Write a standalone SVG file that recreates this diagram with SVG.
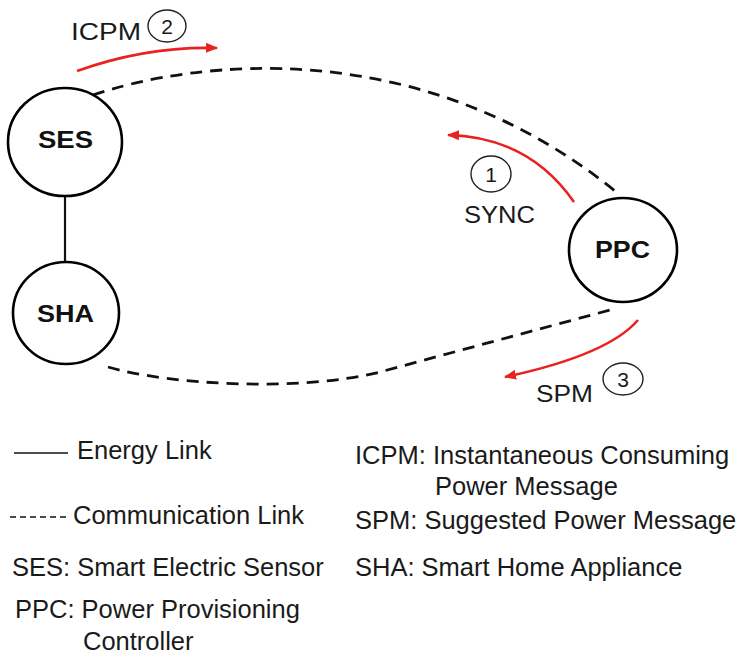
<svg xmlns="http://www.w3.org/2000/svg" width="743" height="660" viewBox="0 0 743 660">
  <style>
    .node { fill: #ffffff; stroke: #000000; stroke-width: 2.6; }
    .nlabel { font-family: "Liberation Sans", Arial, sans-serif; font-weight: bold; font-size: 23px; fill: #111111; }
    .msg { font-family: "Liberation Sans", Arial, sans-serif; font-size: 24px; fill: #1a1a1a; }
    .step { fill: #ffffff; stroke: #222222; stroke-width: 1.4; }
    .stepnum { font-family: "Liberation Sans", Arial, sans-serif; font-size: 21px; fill: #1a1a1a; text-anchor: middle; }
    .comm { fill: none; stroke: #111111; stroke-width: 2.8; stroke-dasharray: 12 8; }
    .energy { fill: none; stroke: #111111; stroke-width: 2.2; }
    .flow { fill: none; stroke: #e8221e; stroke-width: 2.6; }
    .legend { font-family: "Liberation Sans", Arial, sans-serif; font-size: 25.5px; fill: #1a1a1a; }
  </style>
  <defs>
    <marker id="arrow" viewBox="0 0 12 10" refX="11" refY="5" markerWidth="12" markerHeight="10" markerUnits="userSpaceOnUse" orient="auto">
      <path d="M0,0 L12,5 L0,10 Z" fill="#e8221e"/>
    </marker>
  </defs>

  <rect width="743" height="660" fill="#ffffff"/>

  <!-- links between nodes -->
  <g id="connectors">
    <path class="comm" d="M93,95 C190,62 420,30 620,195"/>
    <path class="comm" d="M108,367 C170,385 300,392 380,372 L610,310"/>
    <line class="energy" x1="65" y1="196" x2="65" y2="262"/>
    <!-- message flows -->
    <path class="flow" d="M77,71 Q147,46 217,48" marker-end="url(#arrow)"/>
    <path class="flow" d="M574,202 Q529,137 448,135" marker-end="url(#arrow)"/>
    <path class="flow" d="M638,320 Q608,355 505,377" marker-end="url(#arrow)"/>
  </g>

  <g id="node-ses">
    <ellipse class="node" cx="65" cy="142" rx="57" ry="54"/>
    <text class="nlabel" x="38" y="148" textLength="55" lengthAdjust="spacingAndGlyphs">SES</text>
  </g>
  <g id="node-sha">
    <ellipse class="node" cx="66" cy="313" rx="53" ry="51"/>
    <text class="nlabel" x="37" y="322" textLength="57" lengthAdjust="spacingAndGlyphs">SHA</text>
  </g>
  <g id="node-ppc">
    <ellipse class="node" cx="623" cy="250" rx="54" ry="52"/>
    <text class="nlabel" x="595" y="258" textLength="55" lengthAdjust="spacingAndGlyphs">PPC</text>
  </g>

  <!-- message labels with step numbers -->
  <g id="label-icpm">
    <text class="msg" x="71" y="40" textLength="70" lengthAdjust="spacingAndGlyphs">ICPM</text>
    <ellipse class="step" cx="167" cy="26" rx="19" ry="16"/>
    <text class="stepnum" x="167" y="34">2</text>
  </g>
  <g id="label-sync">
    <ellipse class="step" cx="491" cy="174" rx="20" ry="18"/>
    <text class="stepnum" x="491" y="182">1</text>
    <text class="msg" x="464" y="223" textLength="71" lengthAdjust="spacingAndGlyphs">SYNC</text>
  </g>
  <g id="label-spm">
    <text class="msg" x="536" y="402" textLength="57" lengthAdjust="spacingAndGlyphs">SPM</text>
    <ellipse class="step" cx="623" cy="379" rx="20" ry="16"/>
    <text class="stepnum" x="623" y="387">3</text>
  </g>

  <!-- legend -->
  <g id="legend">
    <line x1="14" y1="453" x2="68" y2="453" stroke="#111111" stroke-width="1.6"/>
    <text class="legend" x="77" y="459">Energy Link</text>
    <line x1="10" y1="517" x2="67" y2="517" stroke="#111111" stroke-width="1.6" stroke-dasharray="6 4"/>
    <text class="legend" x="73" y="524">Communication Link</text>
    <text class="legend" x="12" y="576">SES: Smart Electric Sensor</text>
    <text class="legend" x="15" y="618">PPC: Power Provisioning</text>
    <text class="legend" x="83" y="650">Controller</text>
    <text class="legend" x="355" y="464">ICPM: Instantaneous Consuming</text>
    <text class="legend" x="435" y="495">Power Message</text>
    <text class="legend" x="355" y="529">SPM: Suggested Power Message</text>
    <text class="legend" x="355" y="576">SHA: Smart Home Appliance</text>
  </g>
</svg>
